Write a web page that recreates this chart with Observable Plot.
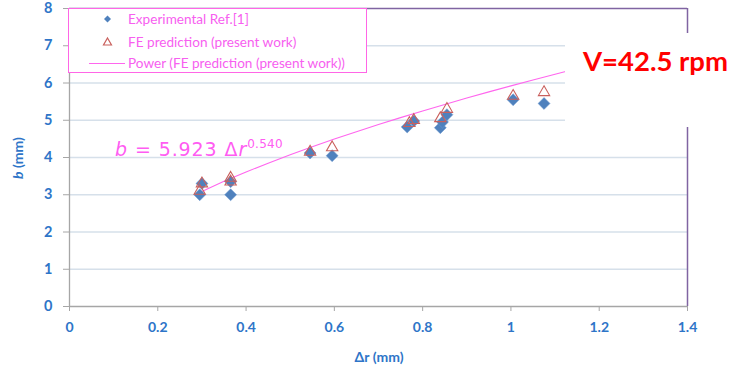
<!DOCTYPE html>
<html><head><meta charset="utf-8">
<script src="https://cdn.jsdelivr.net/npm/d3@7"></script>
<script src="https://cdn.jsdelivr.net/npm/@observablehq/plot@0.6"></script>
<style>
body{margin:0;background:#fff;}
#wrap{position:relative;width:734px;height:374px;overflow:hidden;}
.ov{position:absolute;white-space:nowrap;}
#legend{left:68px;top:8px;width:297px;height:63px;border:1px solid #ff66e6;background:#fff;}
#legend .t{position:absolute;left:59px;font:13.6px Lato,sans-serif;color:#f760f0;line-height:14px;}
#vbox{left:565px;top:33px;width:169px;height:94px;background:#fff;}
#vlab{left:583px;top:47px;font:bold 27.5px Lato,sans-serif;color:#ff0000;line-height:28px;}
#eq{left:115px;top:140px;font:19px "DejaVu Sans",sans-serif;color:#ff5cf2;line-height:19px;letter-spacing:0.9px;}
#eq sup{font-size:12px;vertical-align:0;position:relative;top:-8px;letter-spacing:0.3px;}
#ylab{left:-32px;top:150px;width:100px;text-align:center;transform:rotate(-90deg);font:bold 14px Lato,sans-serif;color:#2e75c8;line-height:16px;}
#xlab{left:279px;top:349px;width:200px;text-align:center;font:bold 14px Lato,sans-serif;color:#2e75c8;line-height:16px;}
</style></head>
<body>
<div id="wrap"></div>
<script>
// Data
const expX = [0.295, 0.300, 0.365, 0.365, 0.545, 0.595, 0.765, 0.780, 0.840, 0.845, 0.855, 1.005, 1.075];
const expY = [3.00, 3.30, 3.00, 3.35, 4.12, 4.05, 4.82, 4.98, 4.80, 4.95, 5.15, 5.55, 5.45];
const feX  = [0.295, 0.300, 0.365, 0.365, 0.545, 0.595, 0.770, 0.780, 0.840, 0.855, 1.005, 1.075];
const feY  = [3.10, 3.30, 3.45, 3.35, 4.15, 4.27, 4.92, 5.00, 5.05, 5.30, 5.65, 5.75];
// Power trendline shown on the chart: b = 5.923 Δr^0.540
const trendCoef = 5.923, trendExp = 0.540;
const trendX = [0.295, 0.35, 0.4, 0.45, 0.5, 0.55, 0.6, 0.65, 0.7, 0.75, 0.8, 0.85, 0.9, 0.95, 1.0, 1.05, 1.1, 1.15, 1.2];
const xTicks = [0, 0.2, 0.4, 0.6, 0.8, 1.0, 1.2, 1.4];
const xTickLabels = ["0", "0.2", "0.4", "0.6", "0.8", "1", "1.2", "1.4"];
const yTicks = [0, 1, 2, 3, 4, 5, 6, 7, 8];
const yTickLabels = ["0", "1", "2", "3", "4", "5", "6", "7", "8"];
const legendLabels = ["Experimental Ref.[1]", "FE prediction (present work)", "Power (FE prediction (present work))"];

const exp = expX.map((x, i) => ({x, y: expY[i]}));
const fe = feX.map((x, i) => ({x, y: feY[i]}));
const trend = trendX.map(x => ({x, y: trendCoef * Math.pow(x, trendExp)}));

const blue = "#2e75c8", grey = "#a6a6a6";
const chart = Plot.plot({
  width: 734, height: 374,
  marginLeft: 69, marginRight: 47, marginTop: 8, marginBottom: 68,
  x: {domain: [0, 1.4]},
  y: {domain: [0, 8]},
  style: {fontFamily: "Lato, sans-serif", background: "#fff", overflow: "visible"},
  marks: [
    Plot.gridY(yTicks.slice(1, -1), {stroke: "#d6e0ea", strokeOpacity: 1, strokeWidth: 1.3}),
    Plot.ruleY([8], {stroke: "#8064a2", strokeWidth: 1.5}),
    Plot.ruleX([1.4], {stroke: "#8064a2", strokeWidth: 1.5}),
    Plot.axisX(xTicks, {tickSize: 5, stroke: grey, fill: blue, fontWeight: "bold", fontSize: 14, tickPadding: 11,
      tickFormat: d => xTickLabels[xTicks.indexOf(d)], label: null}),
    Plot.axisY(yTicks, {tickSize: 6, stroke: grey, fill: blue, fontWeight: "bold", fontSize: 14.5, tickPadding: 11,
      tickFormat: d => yTickLabels[yTicks.indexOf(d)], label: null}),
    Plot.ruleY([0], {stroke: grey, strokeWidth: 1.3}),
    Plot.ruleX([0], {stroke: grey, strokeWidth: 1.3}),
    Plot.line(trend, {x: "x", y: "y", stroke: "#ff66ee", strokeWidth: 1.1}),
    Plot.dot(exp, {x: "x", y: "y", symbol: "diamond2", r: 5.4, fill: "#4f81bd", stroke: "#6f9bd0", strokeWidth: 0.5}),
    Plot.dot(fe, {x: "x", y: "y", symbol: "triangle", r: 4.2, fill: "none", stroke: "#c9605d", strokeWidth: 1.1})
  ]
});
const wrap = document.getElementById("wrap");
wrap.appendChild(chart);

function ov(id, html) {
  const d = document.createElement("div");
  d.className = "ov"; d.id = id; d.innerHTML = html;
  wrap.appendChild(d);
  return d;
}
// legend
ov("legend", `
<svg width="297" height="63" style="position:absolute;left:0;top:0">
  <path d="M38.5,6.5 L42,10 L38.5,13.5 L35,10 Z" fill="#4f81bd"/>
  <path d="M38.5,29 L42.5,36 L34.5,36 Z" fill="none" stroke="#c9605d" stroke-width="1.2"/>
  <line x1="20" x2="56" y1="54.5" y2="54.5" stroke="#ff66ee" stroke-width="1.2"/>
</svg>
<div class="t" style="top:3px">${legendLabels[0]}</div>
<div class="t" style="top:26px">${legendLabels[1]}</div>
<div class="t" style="top:47px">${legendLabels[2]}</div>`);
ov("eq", `<i>b</i> = 5.923 Δ<i>r</i><sup>0.540</sup>`);
ov("vbox", "");
ov("vlab", "V=42.5 rpm");
ov("ylab", "<i>b</i> (mm)");
ov("xlab", "Δr (mm)");
</script>
</body></html>
